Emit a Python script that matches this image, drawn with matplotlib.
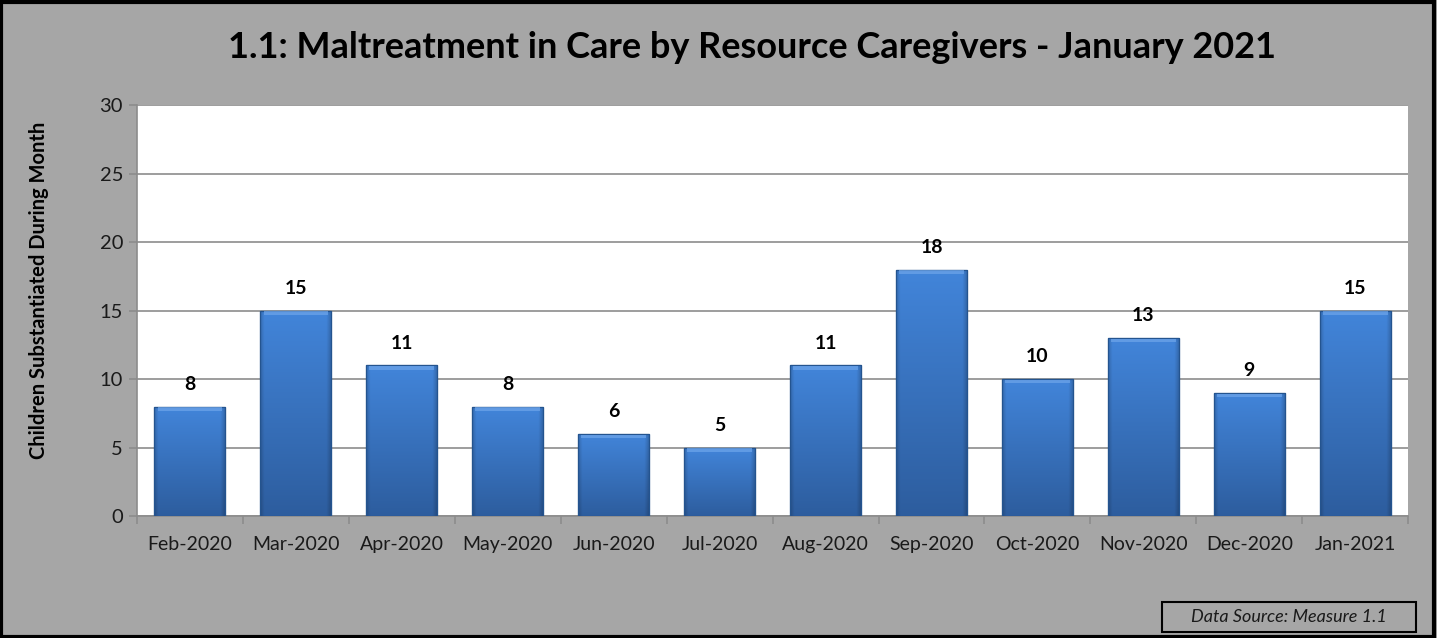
import numpy as np
import matplotlib.pyplot as plt
from matplotlib.patches import Rectangle

months = ['Feb-2020', 'Mar-2020', 'Apr-2020', 'May-2020', 'Jun-2020', 'Jul-2020',
          'Aug-2020', 'Sep-2020', 'Oct-2020', 'Nov-2020', 'Dec-2020', 'Jan-2021']
counts = [8, 15, 11, 8, 6, 5, 11, 18, 10, 13, 9, 15]

plt.rcParams['font.family'] = ['Lato', 'DejaVu Sans']

fig = plt.figure(figsize=(14.37, 6.38), dpi=100)
fig.patch.set_facecolor('#a6a6a6')
# outer black frame
fig.add_artist(Rectangle((0.001, 0.002), 0.997, 0.995, transform=fig.transFigure,
                         fill=False, edgecolor='black', linewidth=3))

ax = fig.add_axes([0.0953, 0.191, 0.8847, 0.644])
ax.set_facecolor('white')

x = np.arange(len(months))
width = 0.67
bars = ax.bar(x, counts, width=width, color='#3a78c9', edgecolor='#1f4f8a',
              linewidth=0.8, zorder=3)

# bar shading: vertical gradient (light top -> dark bottom) with darker sides
top = np.array([0x42, 0x85, 0xda]) / 255
bot = np.array([0x2d, 0x5d, 0x9e]) / 255
v = np.linspace(0, 1, 200)[:, None, None]
col = top * (1 - v) + bot * v
h = np.linspace(0, 1, 100)
side = 1 - 0.18 * (np.clip(1 - h / 0.06, 0, 1) + np.clip((h - 0.94) / 0.06, 0, 1))
img = np.clip(col * side[None, :, None], 0, 1)

for b in bars:
    bx, by = b.get_x(), b.get_y()
    bw, bh = b.get_width(), b.get_height()
    im = ax.imshow(img, extent=(bx, bx + bw, by, by + bh), aspect='auto',
                   origin='upper', zorder=3.5, interpolation='bilinear')
    im.set_clip_path(b)
    ax.add_patch(Rectangle((bx, by), bw, bh, fill=False, edgecolor='#24548f',
                           linewidth=0.9, zorder=4))
    # light top bevel
    ax.add_patch(Rectangle((bx + 0.03, by + bh - 0.3), bw - 0.06, 0.25,
                           color='#6fa6ea', alpha=0.7, linewidth=0, zorder=4))

for xi, v in zip(x, counts):
    ax.text(xi, v + 1.0, str(v), ha='center', va='bottom', fontsize=14,
            fontweight='bold', color='black')

ax.set_xlim(-0.5, len(months) - 0.5)
ax.set_ylim(0, 30)
ax.set_yticks(range(0, 31, 5))
ax.yaxis.grid(True, color='#8c8c8c', linewidth=1.2, zorder=1)
ax.set_axisbelow(True)

ax.set_xticks(x)
ax.set_xticklabels(months, fontsize=14, color='#1a1a1a')
ax.set_xticks(np.arange(-0.5, len(months), 1), minor=True)
ax.tick_params(axis='x', which='major', length=0, pad=14)
ax.tick_params(axis='x', which='minor', length=6, color='#8c8c8c', width=1.2)
ax.tick_params(axis='y', length=6, color='#8c8c8c', width=1.2, labelsize=14.5,
               labelcolor='#1a1a1a', pad=4)

for side_name in ['top', 'right']:
    ax.spines[side_name].set_visible(False)
for side_name in ['left', 'bottom']:
    ax.spines[side_name].set_color('#8c8c8c')
    ax.spines[side_name].set_linewidth(1.2)

ax.set_ylabel('Children Substantiated During Month', fontsize=14.5, fontweight='bold')
ax.yaxis.set_label_coords(-0.069, 0.55)

fig.text(0.523, 0.926, '1.1: Maltreatment in Care by Resource Caregivers - January 2021',
         ha='center', va='center', fontsize=26, fontweight='bold', color='black')

# data source box
fig.add_artist(Rectangle((1162 / 1437, 1 - 632 / 638), 254 / 1437, 30 / 638,
                         transform=fig.transFigure, fill=False, edgecolor='black',
                         linewidth=1.5))
fig.text(1289 / 1437, 1 - 617 / 638, 'Data Source: Measure 1.1', ha='center',
         va='center', fontsize=13, style='italic', color='#1a1a1a')

fig.savefig('out.png', dpi=100, facecolor=fig.get_facecolor())
